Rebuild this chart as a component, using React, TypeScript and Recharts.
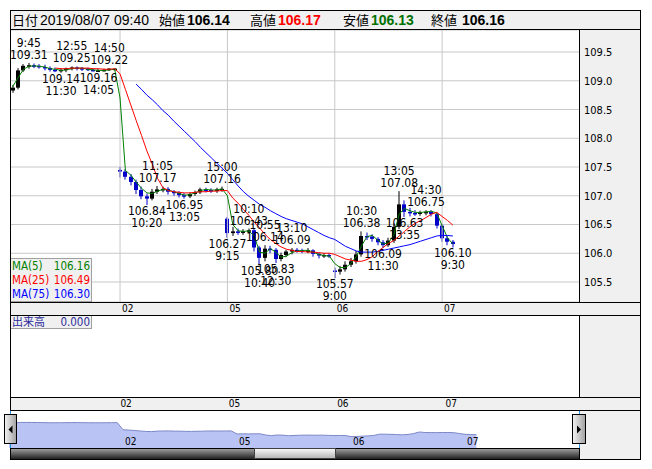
import React from 'react';
import {
    ComposedChart,
    AreaChart,
    Area,
    Bar,
    Line,
    XAxis,
    YAxis,
    CartesianGrid,
    ReferenceLine,
    ReferenceDot,
} from 'recharts';

// 15-minute bars, Tokyo session only (9:00-11:30, 12:30-15:00)
const dayLabels = ['02', '05', '06', '07'];
const dayStarts = [20, 40, 60, 80];
const totalSlots = 106;

const opens = [
    108.83, 108.88, 109.18, 109.26, 109.27, 109.26, 109.24, 109.22, 109.19, 109.18,
    109.19, 109.21, 109.23, 109.22, 109.21, 109.19, 109.18, 109.18, 109.19, 109.21,
    107.45, 107.42, 107.33, 107.24, 107.10, 106.99, 106.95, 107.07, 107.11, 107.12,
    107.07, 107.05, 107.01, 106.99, 107.03, 107.06, 107.11, 107.10, 107.09, 107.11,
    106.60, 106.35, 106.38, 106.37, 106.38, 106.40, 106.10, 105.92, 106.08, 106.06,
    105.90, 105.97, 106.03, 106.06, 106.05, 106.04, 106.05, 105.99, 105.96, 105.97,
    105.70, 105.68, 105.72, 105.80, 105.86, 105.98, 106.30, 106.29, 106.25, 106.19,
    106.14, 106.22, 106.46, 106.85, 106.72, 106.70, 106.69, 106.71, 106.72, 106.68,
    106.48, 106.26, 106.20,
];
const highs = [
    108.93, 109.22, 109.29, 109.31, 109.30, 109.29, 109.28, 109.25, 109.23, 109.22,
    109.23, 109.25, 109.25, 109.24, 109.23, 109.22, 109.21, 109.21, 109.22, 109.22,
    107.50, 107.46, 107.38, 107.28, 107.16, 107.04, 107.12, 107.17, 107.16, 107.15,
    107.10, 107.08, 107.05, 107.06, 107.09, 107.14, 107.14, 107.13, 107.14, 107.16,
    106.63, 106.46, 106.43, 106.42, 106.43, 106.42, 106.13, 106.14, 106.13, 106.09,
    106.01, 106.06, 106.09, 106.09, 106.08, 106.09, 106.07, 106.01, 106.00, 106.00,
    105.75, 105.78, 105.86, 105.92, 106.04, 106.38, 106.36, 106.33, 106.28, 106.23,
    106.27, 106.52, 107.08, 106.92, 106.79, 106.75, 106.74, 106.75, 106.75, 106.71,
    106.51, 106.31, 106.23,
];
const lows = [
    108.79, 108.85, 109.15, 109.21, 109.22, 109.21, 109.18, 109.16, 109.15, 109.14,
    109.15, 109.18, 109.18, 109.17, 109.17, 109.16, 109.16, 109.16, 109.17, 109.18,
    107.32, 107.28, 107.18, 107.03, 106.94, 106.84, 106.92, 107.03, 107.06, 107.02,
    107.00, 106.97, 106.95, 106.96, 107.00, 107.03, 107.06, 107.05, 107.05, 107.07,
    106.27, 106.30, 106.32, 106.32, 106.34, 106.03, 105.80, 105.86, 106.00, 105.83,
    105.86, 105.93, 105.98, 106.01, 106.00, 106.00, 105.94, 105.91, 105.92, 105.92,
    105.57, 105.63, 105.68, 105.76, 105.82, 105.94, 106.23, 106.20, 106.14, 106.09,
    106.11, 106.18, 106.42, 106.63, 106.64, 106.65, 106.65, 106.66, 106.64, 106.43,
    106.20, 106.14, 106.10,
];
const closes = [
    108.88, 109.18, 109.26, 109.27, 109.26, 109.24, 109.22, 109.19, 109.18, 109.19,
    109.21, 109.23, 109.22, 109.21, 109.19, 109.18, 109.18, 109.19, 109.21, 109.21,
    107.42, 107.33, 107.24, 107.10, 106.99, 106.95, 107.07, 107.11, 107.12, 107.07,
    107.05, 107.01, 106.99, 107.03, 107.06, 107.11, 107.10, 107.09, 107.11, 107.12,
    106.35, 106.38, 106.37, 106.38, 106.40, 106.10, 105.92, 106.08, 106.06, 105.90,
    105.97, 106.03, 106.06, 106.05, 106.04, 106.05, 105.99, 105.96, 105.97, 105.96,
    105.68, 105.72, 105.80, 105.86, 105.98, 106.30, 106.29, 106.25, 106.19, 106.14,
    106.22, 106.46, 106.85, 106.72, 106.70, 106.69, 106.71, 106.72, 106.68, 106.48,
    106.26, 106.20, 106.16,
];

const ma5 = [
    108.90, 109.05, 109.20, 109.25, 109.26, 109.25, 109.24, 109.21, 109.20, 109.18,
    109.19, 109.21, 109.22, 109.22, 109.20, 109.19, 109.18, 109.18, 109.19, 109.20,
    108.70, 107.44, 107.36, 107.24, 107.13, 107.05, 107.04, 107.08, 107.11, 107.10,
    107.07, 107.04, 107.01, 107.02, 107.05, 107.09, 107.11, 107.10, 107.10, 107.12,
    107.00, 106.50, 106.39, 106.38, 106.39, 106.30, 106.02, 106.00, 106.08, 106.02,
    105.93, 105.95, 106.01, 106.04, 106.05, 106.05, 106.02, 105.98, 105.96, 105.95,
    105.82, 105.75, 105.75, 105.82, 105.94, 106.13, 106.29, 106.31, 106.23, 106.16,
    106.18, 106.32, 106.68, 106.78, 106.74, 106.71, 106.71, 106.72, 106.73, 106.70,
    106.48, 106.27, 106.16,
];
const ma25 = [
    null, null, null, null, null, null, null, null, 109.22, 109.21,
    109.21, 109.22, 109.22, 109.22, 109.22, 109.21, 109.21, 109.20, 109.20, 109.21,
    109.12, 108.85, 108.58, 108.31, 108.05, 107.78, 107.55, 107.30, 107.14, 107.09,
    107.07, 107.06, 107.05, 107.05, 107.06, 107.07, 107.07, 107.08, 107.08, 107.09,
    107.09, 106.96, 106.87, 106.76, 106.66, 106.54, 106.44, 106.33, 106.24, 106.17,
    106.11, 106.07, 106.05, 106.03, 106.03, 106.02, 106.02, 106.01, 106.00, 106.00,
    105.98, 105.94, 105.90, 105.88, 105.86, 105.86, 105.89, 105.94, 106.03, 106.10,
    106.17, 106.22, 106.30, 106.38, 106.46, 106.52, 106.57, 106.62, 106.68, 106.71,
    106.64, 106.57, 106.49,
];
const ma75 = [
    null, null, null, null, null, null, null, null, null, null,
    null, null, null, null, null, null, null, null, null, null,
    null, null, null, 108.94, 108.85, 108.75, 108.67, 108.58, 108.48, 108.40,
    108.30, 108.21, 108.12, 108.03, 107.94, 107.84, 107.75, 107.66, 107.57, 107.48,
    107.39, 107.28, 107.17, 107.07, 106.99, 106.92, 106.85, 106.80, 106.74, 106.69,
    106.64, 106.60, 106.57, 106.54, 106.51, 106.46, 106.41, 106.36, 106.31, 106.27,
    106.24, 106.18, 106.12, 106.08, 106.04, 106.02, 106.02, 106.02, 106.03, 106.05,
    106.07, 106.09, 106.11, 106.13, 106.15, 106.18, 106.21, 106.24, 106.27, 106.30,
    106.31, 106.31, 106.30,
];

const yTicks = [105.5, 106.0, 106.5, 107.0, 107.5, 108.0, 108.5, 109.0, 109.5];

// [slot, time, price, high/low]
const notes: [number, string, number, 'h' | 'l'][] = [
    [3, '9:45', 109.31, 'h'], [9, '11:30', 109.14, 'l'], [11, '12:55', 109.25, 'h'],
    [16, '14:05', 109.16, 'l'], [18, '14:50', 109.22, 'h'],
    [25, '10:20', 106.84, 'l'], [27, '11:05', 107.17, 'h'], [32, '13:05', 106.95, 'l'],
    [39, '15:00', 107.16, 'h'],
    [40, '9:15', 106.27, 'l'], [44, '10:10', 106.43, 'h'], [46, '10:40', 105.8, 'l'],
    [47, '10:55', 106.14, 'h'], [49, '12:30', 105.83, 'l'], [52, '13:10', 106.09, 'h'],
    [60, '9:00', 105.57, 'l'], [65, '10:30', 106.38, 'h'], [69, '11:30', 106.09, 'l'],
    [72, '13:05', 107.08, 'h'], [73, '13:35', 106.63, 'l'], [77, '14:30', 106.75, 'h'],
    [82, '9:30', 106.1, 'l'],
];

const lastTime = '2019/08/07 09:40';
const lastOHLC = [106.14, 106.17, 106.13, 106.16];
const volumeTotal = 0;

const NARROW = "'Liberation Sans Narrow', 'DejaVu Sans Condensed', 'Liberation Sans', Arial, sans-serif";
const SANS = "'Liberation Sans', Arial, sans-serif";
const JP = "'Noto Sans CJK JP', 'Noto Sans', sans-serif";

const rows = Array.from({ length: totalSlots }, (_, i) => ({
    slot: i,
    open: opens[i] ?? null,
    high: highs[i] ?? null,
    low: lows[i] ?? null,
    close: closes[i] ?? null,
    ma5: ma5[i] ?? null,
    ma25: ma25[i] ?? null,
    ma75: ma75[i] ?? null,
}));
const overviewRows = rows.filter(r => r.close != null);

const Candle = (props: any) => {
    const { x, y, width, height, payload } = props;
    if (!payload || payload.high == null || y == null) return <g />;
    const { open, high, low, close } = payload;
    const span = high - low || 1;
    const py = (v: number) => y + ((high - v) / span) * height;
    const color = close >= open ? '#000000' : '#0000c8';
    const cx = Math.round(x + width / 2);
    const top = py(Math.max(open, close));
    const bot = py(Math.min(open, close));
    return (
        <g>
            <rect x={cx - 0.5} y={y} width={1} height={Math.max(height, 1)} fill={color} />
            <rect x={cx - 2} y={top} width={4} height={Math.max(bot - top, 1.5)} fill={color} />
        </g>
    );
};

const DayTick = (props: any) => {
    const { x, y, payload } = props;
    const k = dayStarts.indexOf(payload.value);
    if (k < 0) return <g />;
    return (
        <text x={x + 2} y={y + 10} fontSize={10} fontFamily={NARROW} fill="#000">
            {dayLabels[k]}
        </text>
    );
};

const PriceTick = (props: any) => {
    const { x, y, payload } = props;
    return (
        <text x={x + 5} y={y + 4} fontSize={11} fontFamily={NARROW} fill="#000">
            {Number(payload.value).toFixed(1)}
        </text>
    );
};

const noteContent = (time: string, price: number, kind: 'h' | 'l') => (p: any) => {
    const vb = p.viewBox || {};
    const cx = vb.x + (vb.width || 0) / 2;
    const cy = vb.y + (vb.height || 0) / 2;
    const [ty, py] = kind === 'h' ? [cy - 16, cy - 4] : [cy + 22, cy + 10];
    return (
        <g fontSize={12} fontFamily={NARROW} fill="#000" textAnchor="middle">
            <text x={cx} y={ty}>{time}</text>
            <text x={cx} y={py}>{price.toFixed(2)}</text>
        </g>
    );
};

const overviewLabel = (txt: string) => (p: any) => {
    const vb = p.viewBox || {};
    return (
        <text x={vb.x + 2} y={vb.y + vb.height - 3} fontSize={10} fontFamily={NARROW} fill="#000">
            {txt}
        </text>
    );
};

export default function App() {
    const last = (a: (number | null)[]) => (a[a.length - 1] as number).toFixed(2);
    const hdr = { fontSize: 14 };
    return (
        <div style={{ position: 'fixed', left: 0, top: 0, width: 652, height: 469, background: '#fff', overflow: 'hidden' }}>
            {/* backgrounds */}
            <svg width={652} height={469} style={{ position: 'absolute', left: 0, top: 0 }}>
                <rect x={10} y={10} width={631} height={20} fill="#f0f0f0" />
                <rect x={579} y={29} width={62} height={431} fill="#f0f0f0" />
                <rect x={10} y={302} width={631} height={14} fill="#f0f0f0" />
                <rect x={10} y={397} width={631} height={14} fill="#f0f0f0" />
            </svg>

            {/* price panel */}
            <div style={{ position: 'absolute', left: 10, top: 30 }}>
                <ComposedChart width={630} height={285} data={rows} margin={{ top: 0, right: 0, bottom: 0, left: 0 }}>
                    <CartesianGrid vertical={false} stroke="#c8c8c8" />
                    {dayStarts.map(s => (
                        <ReferenceLine key={`d${s}`} x={s} stroke="#c8c8c8" />
                    ))}
                    <XAxis
                        dataKey="slot"
                        type="category"
                        height={13}
                        interval={0}
                        axisLine={false}
                        tickLine={false}
                        tickSize={0}
                        tickMargin={0}
                        tick={<DayTick />}
                    />
                    <YAxis
                        orientation="right"
                        width={61}
                        domain={[105.152, 109.883]}
                        ticks={yTicks}
                        allowDataOverflow
                        axisLine={false}
                        tickLine={false}
                        tickSize={0}
                        tickMargin={0}
                        tick={<PriceTick />}
                    />
                    <Line dataKey="ma5" stroke="#008000" strokeWidth={1} dot={false} isAnimationActive={false} />
                    <Line dataKey="ma75" stroke="#0000ff" strokeWidth={1} dot={false} isAnimationActive={false} />
                    <Line dataKey="ma25" stroke="#ff0000" strokeWidth={1} dot={false} isAnimationActive={false} />
                    <Bar
                        dataKey={(d: any) => (d.high == null ? null : [d.low, d.high])}
                        shape={<Candle />}
                        isAnimationActive={false}
                    />
                    {notes.map(([slot, time, price, kind]) => (
                        <ReferenceDot
                            key={`n${slot}`}
                            x={slot}
                            y={price}
                            r={1}
                            fill="none"
                            stroke="none"
                            ifOverflow="visible"
                            label={{ content: noteContent(time, price, kind) }}
                        />
                    ))}
                </ComposedChart>
            </div>

            {/* volume panel */}
            <div style={{ position: 'absolute', left: 10, top: 316 }}>
                <ComposedChart width={630} height={94} data={rows} margin={{ top: 0, right: 0, bottom: 0, left: 0 }}>
                    {dayStarts.map(s => (
                        <ReferenceLine key={`v${s}`} x={s} stroke="#c8c8c8" />
                    ))}
                    <XAxis
                        dataKey="slot"
                        type="category"
                        height={13}
                        interval={0}
                        axisLine={false}
                        tickLine={false}
                        tickSize={0}
                        tickMargin={0}
                        tick={<DayTick />}
                    />
                    <YAxis orientation="right" width={61} domain={[0, 1]} tick={false} axisLine={false} tickLine={false} />
                </ComposedChart>
            </div>

            {/* overview */}
            <div style={{ position: 'absolute', left: 9, top: 411 }}>
                <AreaChart width={570} height={37} data={overviewRows} margin={{ top: 0, right: 0, bottom: 0, left: 0 }}>
                    <XAxis dataKey="slot" type="number" domain={[0, 100]} hide />
                    <YAxis domain={[102.8, 112.16]} hide allowDataOverflow />
                    <Area
                        dataKey="close"
                        type="linear"
                        stroke="#7d88c8"
                        strokeWidth={1}
                        fill="#bac4f4"
                        fillOpacity={1}
                        isAnimationActive={false}
                    />
                    {dayStarts.map((s, k) => (
                        <ReferenceLine key={`o${s}`} x={s} stroke="none" label={{ content: overviewLabel(dayLabels[k]) }} />
                    ))}
                </AreaChart>
            </div>

            {/* overlay: frame, header, legends, scrollbar */}
            <svg width={652} height={469} style={{ position: 'absolute', left: 0, top: 0, pointerEvents: 'none' }}>
                <defs>
                    <linearGradient id="track" x1="0" y1="0" x2="0" y2="1">
                        <stop offset="0" stopColor="#a8a8a8" />
                        <stop offset="1" stopColor="#202020" />
                    </linearGradient>
                    <linearGradient id="thumb" x1="0" y1="0" x2="0" y2="1">
                        <stop offset="0" stopColor="#fafafa" />
                        <stop offset="1" stopColor="#b4b4b4" />
                    </linearGradient>
                    <linearGradient id="btn" x1="0" y1="0" x2="1" y2="0">
                        <stop offset="0" stopColor="#f4f4f4" />
                        <stop offset="1" stopColor="#a0a0a0" />
                    </linearGradient>
                </defs>

                {/* header text */}
                <text x={12} y={25} fontFamily={JP} fontSize={13} fill="#000">日付</text>
                <text x={40} y={25} fontFamily={SANS} {...hdr} fill="#000">{lastTime}</text>
                <text x={159} y={25} fontFamily={JP} fontSize={13} fill="#000">始値</text>
                <text x={187} y={25} fontFamily={SANS} {...hdr} fontWeight="bold" fill="#000">{lastOHLC[0].toFixed(2)}</text>
                <text x={250} y={25} fontFamily={JP} fontSize={13} fill="#000">高値</text>
                <text x={278} y={25} fontFamily={SANS} {...hdr} fontWeight="bold" fill="#ff0000">{lastOHLC[1].toFixed(2)}</text>
                <text x={343} y={25} fontFamily={JP} fontSize={13} fill="#000">安値</text>
                <text x={371} y={25} fontFamily={SANS} {...hdr} fontWeight="bold" fill="#007000">{lastOHLC[2].toFixed(2)}</text>
                <text x={431} y={25} fontFamily={JP} fontSize={13} fill="#000">終値</text>
                <text x={462} y={25} fontFamily={SANS} {...hdr} fontWeight="bold" fill="#000">{lastOHLC[3].toFixed(2)}</text>

                {/* MA legend */}
                <rect x={10.5} y={258.5} width={81} height={43} fill="#f0f0f0" stroke="#a0a0a0" />
                <g fontFamily={NARROW} fontSize={11.5}>
                    <text x={12} y={270} fill="#008000">MA(5)</text>
                    <text x={90} y={270} fill="#008000" textAnchor="end">{last(ma5)}</text>
                    <text x={12} y={284} fill="#ff0000">MA(25)</text>
                    <text x={90} y={284} fill="#ff0000" textAnchor="end">{last(ma25)}</text>
                    <text x={12} y={298} fill="#0000ff">MA(75)</text>
                    <text x={90} y={298} fill="#0000ff" textAnchor="end">{last(ma75)}</text>
                </g>

                {/* volume legend */}
                <rect x={10.5} y={315.5} width={81} height={13} fill="#f0f0f0" stroke="#a0a0a0" />
                <text x={12} y={326} fontFamily={JP} fontSize={11} fill="#2b2b9b">出来高</text>
                <text x={90} y={326} fontFamily={NARROW} fontSize={11.5} fill="#2b2b9b" textAnchor="end">
                    {volumeTotal.toFixed(3)}
                </text>

                {/* frame lines */}
                <g fill="#000">
                    <rect x={10} y={10} width={631} height={1} />
                    <rect x={10} y={10} width={1} height={450} />
                    <rect x={640} y={10} width={1} height={450} />
                    <rect x={10} y={459} width={631} height={1} />
                    <rect x={10} y={29} width={631} height={1} />
                    <rect x={10} y={302} width={631} height={1} />
                    <rect x={10} y={315} width={631} height={1} />
                    <rect x={10} y={397} width={631} height={1} />
                    <rect x={10} y={410} width={631} height={1} />
                    <rect x={579} y={29} width={1} height={273} />
                    <rect x={579} y={315} width={1} height={82} />
                    <rect x={579} y={448} width={1} height={12} />
                </g>

                {/* scroll bar */}
                <rect x={11} y={448} width={568} height={11} fill="url(#track)" />
                <rect x={10} y={448} width={569} height={1} fill="#000" />
                <rect x={254.5} y={448.5} width={81} height={10} fill="url(#thumb)" stroke="#404040" />
                <rect x={10} y={411} width={1} height={37} fill="#2a95e0" />
                <rect x={579} y={411} width={1} height={37} fill="#2a95e0" />

                <rect x={4.5} y={414.5} width={12} height={29} fill="url(#btn)" stroke="#000" />
                <polygon points="12.5,425.5 12.5,433.5 8.5,429.5" fill="#000" />
                <rect x={572.5} y={414.5} width={13} height={29} fill="url(#btn)" stroke="#000" />
                <polygon points="577,425.5 577,433.5 581,429.5" fill="#000" />
            </svg>
        </div>
    );
}
